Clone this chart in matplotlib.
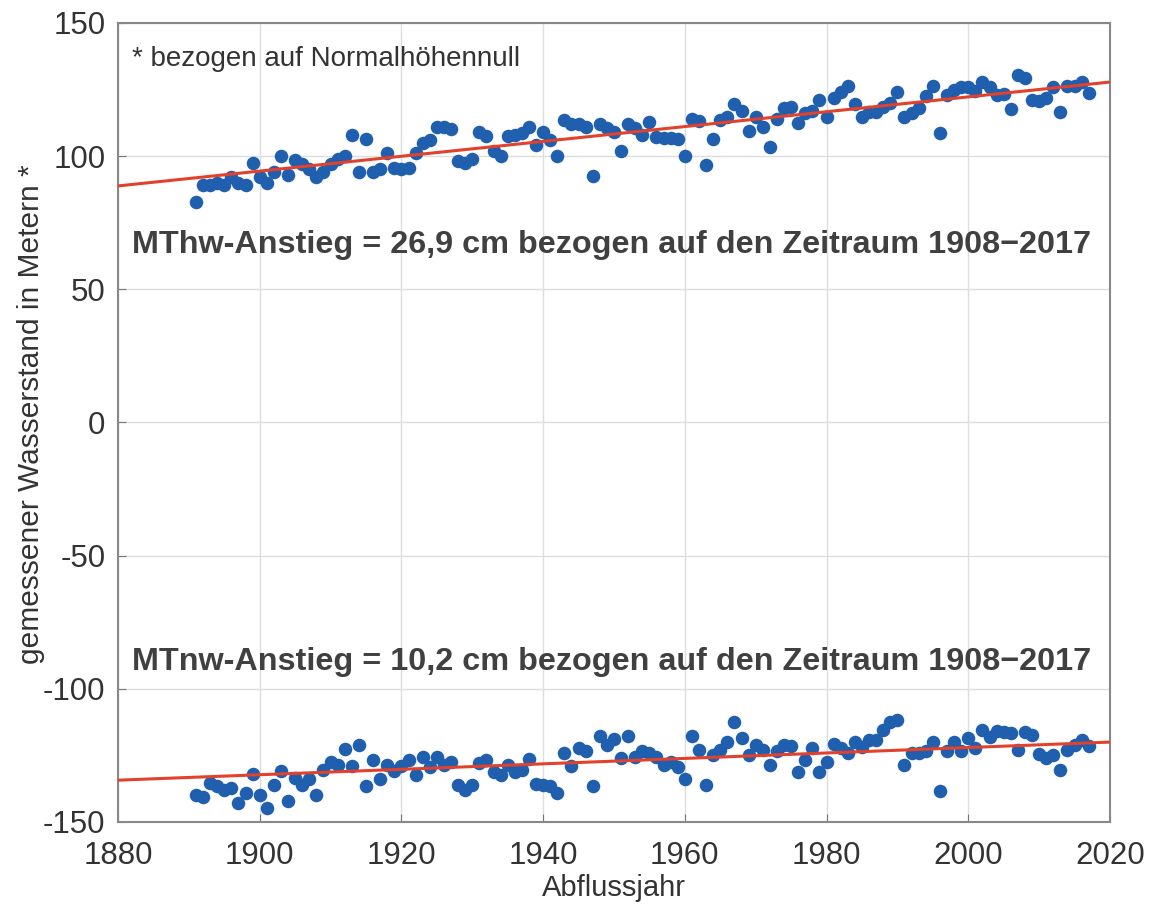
import numpy as np
import matplotlib.pyplot as plt

plt.rcParams['font.family'] = ['Liberation Sans', 'DejaVu Sans']
plt.rcParams['axes.unicode_minus'] = False

#%% Data
years = np.arange(1891, 2018)

mthw = [82.8, 89, 89, 90, 89, 92, 90, 89, 97.5, 92,
        90, 94, 100, 93, 98.6, 97, 95, 92, 94, 97,
        99, 100, 108, 94, 106.5, 94, 95, 101, 95.5, 95,
        95.5, 101, 105, 106, 111, 111, 110, 98, 97.5, 99,
        109, 107.5, 102, 100, 107.5, 108, 108.6, 111, 104, 109,
        106, 100, 113.5, 112, 112, 111, 92.5, 112, 110.6, 109,
        102, 112, 110.6, 108, 112.8, 107, 106.8, 106.8, 106.5, 100,
        114, 113, 96.7, 106.5, 113.6, 114.7, 119.6, 117, 109.5, 114.7,
        111, 103.5, 114, 118, 118.5, 112.5, 116, 117, 121, 114.7,
        121.8, 124, 126.3, 119.6, 114.7, 116.6, 116.6, 118.5, 120, 124,
        114.7, 116, 118, 122.6, 126.3, 108.8, 123, 124.8, 126, 126,
        124.5, 127.8, 125.8, 123, 123.4, 117.7, 130.5, 129.4, 121, 120.7,
        122, 126, 116.6, 126.3, 126.3, 128, 123.7]

mtnw = [-139.9, -140.6, -135.4, -136.5, -138, -137.3, -143, -139, -132, -140,
        -144.8, -136, -131, -142, -133.5, -136, -134, -140, -130.5, -127.5,
        -128.6, -122.6, -129, -121, -136.5, -126.7, -134, -128.6, -131, -129,
        -126.7, -132.4, -125.6, -129.4, -125.6, -128.6, -127.5, -136, -138, -136,
        -128, -126.7, -131.2, -132.4, -128.6, -131.2, -130.5, -126.3, -135.8, -136,
        -136.5, -139, -124, -129, -122.3, -123.5, -136.5, -117.7, -121, -119,
        -126, -117.7, -125.6, -123.4, -124, -125.6, -128.6, -127.5, -129.4, -134,
        -117.7, -123, -136, -124.9, -123, -120, -112.5, -118.5, -124.9, -121,
        -123, -128.6, -123.4, -121, -121.4, -131.2, -126.7, -122.3, -131.2, -127.5,
        -120.6, -122.3, -124, -120, -121.8, -119.2, -119.2, -115.5, -112.5, -111.7,
        -128.6, -124, -124, -123.4, -120, -138.4, -123.4, -120, -123.4, -118.5,
        -122.3, -115.5, -118, -115.8, -116.2, -116.6, -123, -116.2, -117.3, -124.5,
        -126, -124.9, -130.5, -123, -121, -119.2, -121.4]

# trend lines as drawn (value at 1880 and at 2020)
trend_years = [1880, 2020]
trend_hw = [88.8, 127.8]
trend_nw = [-134.3, -120.0]

xticks = [1880, 1900, 1920, 1940, 1960, 1980, 2000, 2020]
yticks = [-150, -100, -50, 0, 50, 100, 150]

#%% Plot
fig = plt.figure(figsize=(11.5, 9.17), dpi=100)
ax = fig.add_axes([0.1026, 0.1036, 0.8626, 0.8714])

dot_color = "#1f5fae"
line_color = "#e2412c"
text_color = "#333333"

ax.scatter(years, mthw, s=95, color=dot_color, zorder=3, linewidths=0)
ax.scatter(years, mtnw, s=95, color=dot_color, zorder=3, linewidths=0)
ax.plot(trend_years, trend_hw, color=line_color, lw=2.2, zorder=4)
ax.plot(trend_years, trend_nw, color=line_color, lw=2.2, zorder=4)

ax.set_xlim(1880, 2020)
ax.set_ylim(-150, 150)
ax.set_xticks(xticks)
ax.set_yticks(yticks)
ax.grid(True, color="#dddddd", lw=1)
ax.set_axisbelow(True)
ax.tick_params(direction="in", labelsize=22.5, colors="#777777",
               labelcolor=text_color, length=6)
ax.tick_params(axis="x", pad=14)
ax.tick_params(axis="y", pad=9)
for s in ax.spines.values():
    s.set_color("#888888")
    s.set_linewidth(1.5)

ax.set_xlabel("Abflussjahr", fontsize=21, color=text_color, labelpad=2)
ax.set_ylabel("gemessener Wasserstand in Metern *", fontsize=21.5,
              color=text_color)
ax.yaxis.set_label_coords(-0.074, 0.51)

ax.text(1882, 136.5, "* bezogen auf Normalhöhennull", fontsize=20,
        color=text_color, va="center", ha="left")
ax.text(1882, 66.5, "MThw-Anstieg = 26,9 cm bezogen auf den Zeitraum 1908\u22122017",
        fontsize=23.3, fontweight="bold", color="#404040", va="center", ha="left")
ax.text(1882, -90, "MTnw-Anstieg = 10,2 cm bezogen auf den Zeitraum 1908\u22122017",
        fontsize=23.3, fontweight="bold", color="#404040", va="center", ha="left")

plt.savefig("out.png", dpi=100)
